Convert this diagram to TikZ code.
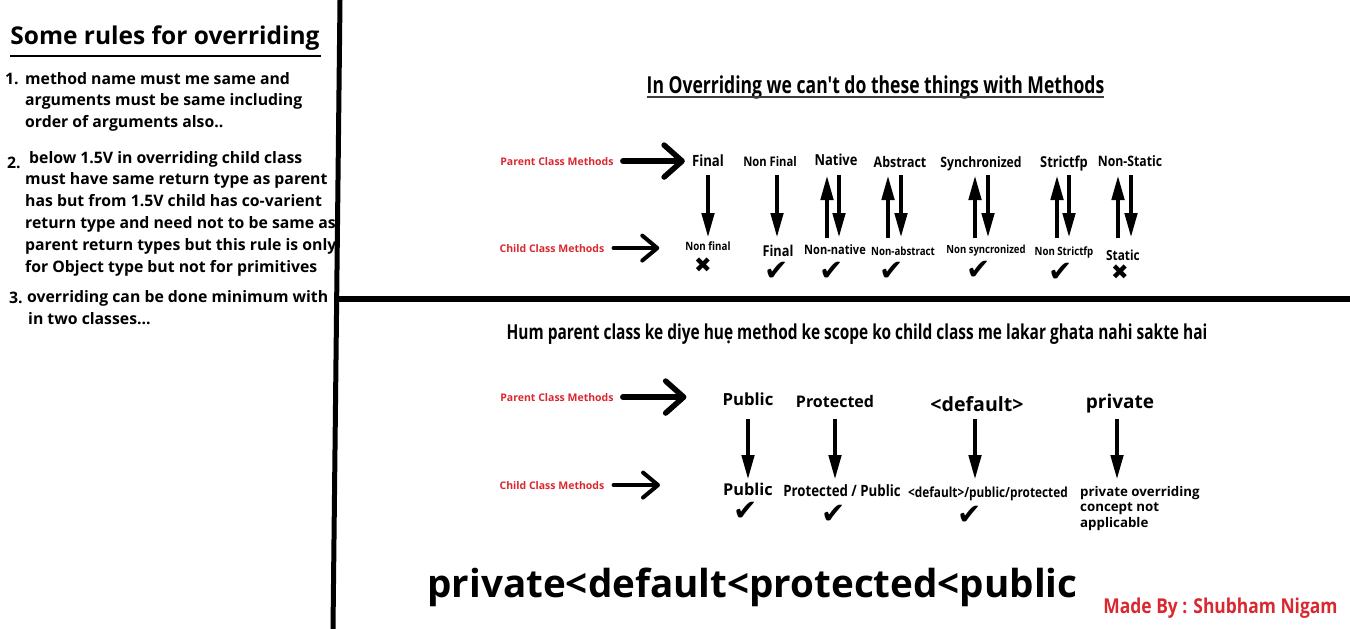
\documentclass[tikz,border=0pt]{standalone}
\usepackage{fontspec}
\setmainfont{Open Sans}
\newfontfamily\narrowfont{Open Sans}[FakeStretch=0.85]
\newfontfamily\tightfont{Open Sans}[FakeStretch=0.75]
\newfontfamily\symfont{DejaVu Sans}
\usetikzlibrary{arrows.meta,calc}
\definecolor{lblred}{RGB}{218,40,48}
\definecolor{ulgray}{RGB}{60,60,60}
\newcommand\fsz[1]{\fontsize{#1}{#1}\selectfont}

\begin{document}
\begin{tikzpicture}[x=1pt, y=-1pt,
  plain/.style={inner sep=0pt, anchor=base, font=\bfseries\fsz{#1}},
  narrow/.style={inner sep=0pt, anchor=base, font=\narrowfont\bfseries\fsz{#1}},
  tight/.style={inner sep=0pt, anchor=base, font=\tightfont\bfseries\fsz{#1}},
  redlbl/.style={inner sep=0pt, anchor=base, text=lblred, font=\bfseries\fsz{10.5}},
  num/.style={inner sep=0pt, anchor=base west, font=\bfseries\fsz{15.8}},
  body/.style={inner sep=0pt, anchor=base west, align=left, font=\bfseries\fontsize{15.8}{21.8}\selectfont},
  sym/.style={inner sep=0pt, font=\symfont\fsz{#1}},
  vert/.style={line width=4.5pt, -{Triangle[length=25pt,width=12pt]}},
  bigside/.style={line width=5.5pt, line cap=round, -{Straight Barb[length=18pt,width=32pt,round]}},
  smallside/.style={line width=4pt, line cap=round, -{Straight Barb[length=15pt,width=25pt,round]}}]
\useasboundingbox (0,0) rectangle (1350,629);
\draw[line width=5pt] (340,0) -- (333,629);
\draw[line width=6pt] (337,299) -- (1350,299);

\node[plain=24.5] (T0) at (165,44.5) {Some rules for overriding};
\draw[line width=2.5pt] (10,56) -- (321,56);
\node[num] (N1) at (5,84) {1.};
\node[body] (B1) at (25,127.6) {method name must me same and\\arguments must be same including\\order of arguments also..};
\node[num] (N2) at (7,168) {2.};
\node[body] (B2) at (25,272) {\hspace{4pt}below 1.5V in overriding child class\\must have same return type as parent\\has but from 1.5V child has co-varient\\return type and need not to be same as\\parent return types but this rule is only\\for Object type but not for primitives};
\node[num] (N3) at (9,303) {3.};
\node[body] (B3) at (27,324) {overriding can be done minimum with\\\hspace{1pt}in two classes...};

\node[tight=23.4] (T1) at (875.5,93) {In Overriding we can't do these things with Methods};
\draw[ulgray, line width=2pt] ([yshift=-4pt]T1.base west) -- ([yshift=-4pt]T1.base east);
\node[redlbl] (PR1) at (557,165) {Parent Class Methods};
\node[redlbl] (CR1) at (552,252) {Child Class Methods};
\node[narrow=15.5] (P1N1) at (708,166) {Final};
\node[narrow=13.2] (P1N2) at (770,166.5) {Non Final};
\node[narrow=15.2] (P1N3) at (836,165) {Native};
\node[narrow=14.6] (P1N4) at (900,167) {Abstract};
\node[narrow=14.3] (P1N5) at (981,167) {Synchronized};
\node[narrow=15.1] (P1N6) at (1064,167) {Strictfp};
\node[narrow=14.4] (P1N7) at (1130,166) {Non-Static};
\node[narrow=11.5] (C1N1) at (708,250) {Non final};
\node[narrow=15] (C1N2) at (778,256) {Final};
\node[narrow=13] (C1N3) at (835,254) {Non-native};
\node[narrow=11.4] (C1N4) at (903,255) {Non-abstract};
\node[narrow=11.2] (C1N5) at (986,253) {Non syncronized};
\node[narrow=11.4] (C1N6) at (1064,255) {Non Strictfp};
\node[narrow=13.9] (C1N7) at (1123,260) {Static};
\node[sym=21] (M1N1) at (703,265) {✖};
\node[sym=29] (M1N2) at (777,271) {✔};
\node[sym=29] (M1N3) at (832,271) {✔};
\node[sym=29] (M1N4) at (892,271) {✔};
\node[sym=29] (M1N5) at (979,270) {✔};
\node[sym=29] (M1N6) at (1061,272) {✔};
\node[sym=21] (M1N7) at (1120,272) {✖};
\coordinate (R1a) at (0,175);
\coordinate (R1b) at (0,238);
\draw[bigside, shorten <=9pt, shorten >=7pt] (PR1.east) -- (PR1.east -| P1N1.west);
\draw[smallside, shorten <=9pt, shorten >=26pt] (CR1.east) -- (CR1.east -| C1N1.west);
\draw[vert] (P1N1 |- R1a) -- (P1N1 |- R1b);
\draw[vert] ($(P1N2 |- R1a)+(7,0)$) -- ($(P1N2 |- R1b)+(7,0)$);
\draw[vert] ($(P1N3 |- R1b)+(-9,0)$) -- ($(P1N3 |- R1a)+(-9,0)$);
\draw[vert] ($(P1N3 |- R1a)+(3,0)$) -- ($(P1N3 |- R1b)+(3,0)$);
\draw[vert] ($(P1N4 |- R1b)+(-12,0)$) -- ($(P1N4 |- R1a)+(-12,0)$);
\draw[vert] ($(P1N4 |- R1a)+(1,0)$) -- ($(P1N4 |- R1b)+(1,0)$);
\draw[vert] ($(P1N5 |- R1b)+(-6,0)$) -- ($(P1N5 |- R1a)+(-6,0)$);
\draw[vert] ($(P1N5 |- R1a)+(7,0)$) -- ($(P1N5 |- R1b)+(7,0)$);
\draw[vert] ($(P1N6 |- R1b)+(-7,0)$) -- ($(P1N6 |- R1a)+(-7,0)$);
\draw[vert] ($(P1N6 |- R1a)+(5,0)$) -- ($(P1N6 |- R1b)+(5,0)$);
\draw[vert] ($(P1N7 |- R1b)+(-12,0)$) -- ($(P1N7 |- R1a)+(-12,0)$);
\draw[vert] ($(P1N7 |- R1a)+(1,0)$) -- ($(P1N7 |- R1b)+(1,0)$);

\node[tight=20.6] (T2) at (857,339) {Hum parent class ke diye huẹ method ke scope ko child class me lakar ghata nahi sakte hai};
\node[redlbl] (PR2) at (557,401) {Parent Class Methods};
\node[redlbl] (CR2) at (552,489) {Child Class Methods};
\node[plain=16.7] (P2N1) at (748,405) {Public};
\node[plain=16] (P2N2) at (835,407) {Protected};
\node[plain=19.6] (P2N3) at (977,411) {<default>};
\node[plain=19] (P2N4) at (1120,408) {private};
\node[plain=16.3] (C2N1) at (748,495) {Public};
\node[narrow=15.6] (C2N2) at (842,496) {Protected / Public};
\node[narrow=13.9] (C2N3) at (988,497) {<default>/public/protected};
\node[inner sep=0pt, anchor=base west, align=left, font=\bfseries\fontsize{13.3}{15.5}\selectfont] (C2N4) at (1080,527) {private overriding\\concept not\\applicable};
\node[sym=29] (M2N1) at (746,511) {✔};
\node[sym=29] (M2N2) at (834,514) {✔};
\node[sym=29] (M2N3) at (970,515) {✔};
\coordinate (R2a) at (0,419);
\coordinate (R2b) at (0,480);
\draw[bigside, shorten <=9pt, shorten >=36pt] (PR2.east) -- (PR2.east -| P2N1.west);
\draw[smallside, shorten <=9pt, shorten >=63pt] (CR2.east) -- (CR2.east -| C2N1.west);
\draw[vert] (P2N1 |- R2a) -- (P2N1 |- R2b);
\draw[vert] (P2N2 |- R2a) -- (P2N2 |- R2b);
\draw[vert] ($(P2N3 |- R2a)+(-2,0)$) -- ($(P2N3 |- R2b)+(-2,0)$);
\draw[vert] ($(P2N4 |- R2a)+(-3,0)$) -- ($(P2N4 |- R2b)+(-3,0)$);

\node[plain=38.6] (T3) at (752.5,597) {private<default<protected<public};
\node[narrow=20.5, text=lblred] (T4) at (1220.5,613) {Made By : Shubham Nigam};
\end{tikzpicture}
\end{document}
